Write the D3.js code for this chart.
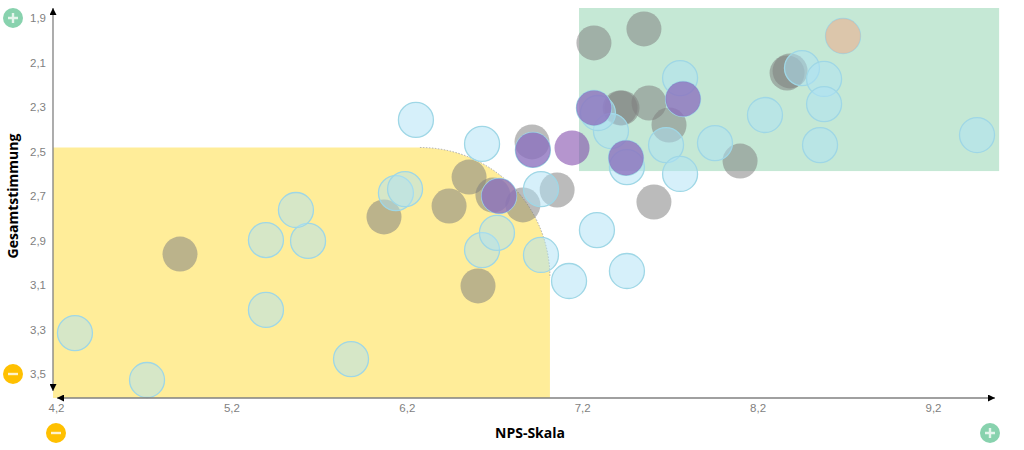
<!DOCTYPE html>
<html>
<head>
<meta charset="utf-8">
<script src="https://cdn.jsdelivr.net/npm/d3@7"></script>
<style>
  html, body { margin: 0; padding: 0; background: #fff; }
  svg { display: block; }
</style>
</head>
<body>
<script>
// data
const xTicks = [4.2, 5.2, 6.2, 7.2, 8.2, 9.2];
const yTicks = [1.9, 2.1, 2.3, 2.5, 2.7, 2.9, 3.1, 3.3, 3.5];

const greyX = [7.267, 7.552, 7.416, 7.427, 7.581, 7.695, 8.100, 8.368, 8.385, 7.609, 6.914, 7.057, 6.555, 6.441, 6.691, 6.862, 6.070, 6.606, 4.907];
const greyY = [2.012, 1.949, 2.304, 2.304, 2.282, 2.381, 2.543, 2.147, 2.138, 2.727, 2.457, 2.673, 2.615, 2.745, 2.696, 2.740, 2.794, 3.104, 2.961];

const blueX = [4.308, 4.719, 5.397, 5.637, 5.568, 5.397, 5.882, 6.138, 6.190, 6.252, 6.629, 6.629, 6.714, 6.965, 6.965, 7.125, 7.284, 7.455, 7.455, 7.364, 7.290, 7.758, 7.678, 7.758, 7.957, 8.242, 8.453, 8.579, 8.579, 8.556, 9.451, 8.687, 7.267, 7.775, 7.450, 6.919, 6.726];
const blueY = [3.316, 3.527, 2.898, 2.902, 2.763, 3.212, 3.433, 2.687, 2.669, 2.358, 2.466, 2.943, 2.866, 2.669, 2.965, 3.082, 2.853, 3.037, 2.570, 2.408, 2.327, 2.170, 2.471, 2.601, 2.462, 2.336, 2.125, 2.174, 2.287, 2.471, 2.426, 1.981, 2.304, 2.264, 2.529, 2.493, 2.700];

const purpleX = [7.267, 7.775, 7.450, 6.919, 6.726, 7.142];
const purpleY = [2.304, 2.264, 2.529, 2.493, 2.700, 2.484];

const orangeX = [8.687];
const orangeY = [1.981];

// quadrants
const yellowX = [4.183, 7.016];
const yellowY = [2.482, 3.608];
const greenX = [7.182, 9.577];
const greenY = [1.855, 2.588];

const width = 1024, height = 450;
const r = 17.5;
const axisX = 53, axisY = 398;

const x = d3.scaleLinear().domain([4.2, 9.2]).range([56, 933]);
const y = d3.scaleLinear().domain([1.9, 3.5]).range([18, 374]);

const comma = d3.formatLocale({ decimal: ",", thousands: ".", grouping: [3], currency: ["", "€"] }).format(".1f");

const svg = d3.select("body").append("svg")
  .attr("width", width)
  .attr("height", height)
  .attr("font-family", "'Open Sans', sans-serif");

// arrow heads
const defs = svg.append("defs");
defs.append("marker")
  .attr("id", "arrow")
  .attr("viewBox", "0 0 10 10")
  .attr("refX", 10).attr("refY", 5)
  .attr("markerUnits", "userSpaceOnUse")
  .attr("markerWidth", 7).attr("markerHeight", 7)
  .attr("orient", "auto-start-reverse")
  .append("path")
  .attr("d", "M0,0L10,5L0,10Z")
  .attr("fill", "#000");

// **** quadrants *****************
const yx0 = x(yellowX[0]), yx1 = x(yellowX[1]), yy0 = y(yellowY[0]), yy1 = y(yellowY[1]);
const corner = 130;
svg.append("path")
  .attr("d", `M${yx0},${yy0}H${yx1 - corner}A${corner},${corner} 0 0 1 ${yx1},${yy0 + corner}V${yy1}H${yx0}Z`)
  .attr("fill", "#ffed99");
svg.append("path")
  .attr("d", `M${yx1 - corner},${yy0}A${corner},${corner} 0 0 1 ${yx1},${yy0 + corner}`)
  .attr("fill", "none")
  .attr("stroke", "#999")
  .attr("stroke-width", 0.8)
  .attr("stroke-dasharray", "1.5 1.5");

svg.append("rect")
  .attr("x", x(greenX[0]))
  .attr("y", y(greenY[0]))
  .attr("width", x(greenX[1]) - x(greenX[0]))
  .attr("height", y(greenY[1]) - y(greenY[0]))
  .attr("fill", "#c5e8d5");

// **** axes *****************
const xAxis = d3.axisBottom(x).tickValues(xTicks).tickSize(0).tickPadding(8).tickFormat(comma);
const yAxis = d3.axisLeft(y).tickValues(yTicks).tickSize(0).tickPadding(0).tickFormat(comma);

const gx = svg.append("g").attr("transform", `translate(0,${axisY})`).call(xAxis);
const gy = svg.append("g").attr("transform", "translate(46,0)").call(yAxis);
[gx, gy].forEach(g => {
  g.select(".domain").remove();
  g.selectAll("text").attr("fill", "#7f7f7f").attr("font-size", 11.5);
});
gx.selectAll("text").attr("dy", "0.55em");

// **** points *****************
function dots(xs, ys, fill, opacity, stroke) {
  svg.append("g")
    .selectAll("circle")
    .data(xs.map((d, i) => [d, ys[i]]))
    .join("circle")
    .attr("cx", d => x(d[0]))
    .attr("cy", d => y(d[1]))
    .attr("r", r)
    .attr("fill", fill)
    .attr("fill-opacity", opacity)
    .attr("stroke", stroke || "none")
    .attr("stroke-width", stroke ? 1.3 : 0);
}

dots(greyX, greyY, "#7f7f7f", 0.53);
dots(blueX, blueY, "#aee2f6", 0.5, "#9fd7e6");
dots(purpleX, purpleY, "#8049ab", 0.58);
dots(orangeX, orangeY, "#f4b183", 0.6);

// axis lines go over the yellow
svg.append("line")
  .attr("x1", axisX).attr("x2", axisX)
  .attr("y1", 391).attr("y2", 8)
  .attr("stroke", "#808080").attr("stroke-width", 1.3)
  .attr("marker-start", "url(#arrow)")
  .attr("marker-end", "url(#arrow)");
svg.append("line")
  .attr("x1", 57).attr("x2", 995)
  .attr("y1", axisY).attr("y2", axisY)
  .attr("stroke", "#808080").attr("stroke-width", 1.3)
  .attr("marker-start", "url(#arrow)")
  .attr("marker-end", "url(#arrow)");

// **** titles *****************
svg.append("text")
  .attr("x", 530).attr("y", 438)
  .attr("text-anchor", "middle")
  .attr("font-size", 14).attr("font-weight", 700)
  .text("NPS-Skala");
svg.append("text")
  .attr("transform", "translate(18,196) rotate(-90)")
  .attr("text-anchor", "middle")
  .attr("font-size", 14).attr("font-weight", 700)
  .text("Gesamtstimmung");

// **** plus / minus badges *****************
function badge(cx, cy, plus) {
  const g = svg.append("g").attr("transform", `translate(${cx},${cy})`);
  g.append("circle").attr("r", 10).attr("fill", plus ? "#88d2ae" : "#ffc000");
  g.append("path")
    .attr("d", plus ? "M-5,0H5M0,-5V5" : "M-5,0H5")
    .attr("stroke", plus ? "#e4f5ec" : "#fff3cc")
    .attr("stroke-width", 2.4);
}
badge(13, 18, true);
badge(13, 374, false);
badge(56, 433, false);
badge(990, 433, true);
</script>
</body>
</html>
